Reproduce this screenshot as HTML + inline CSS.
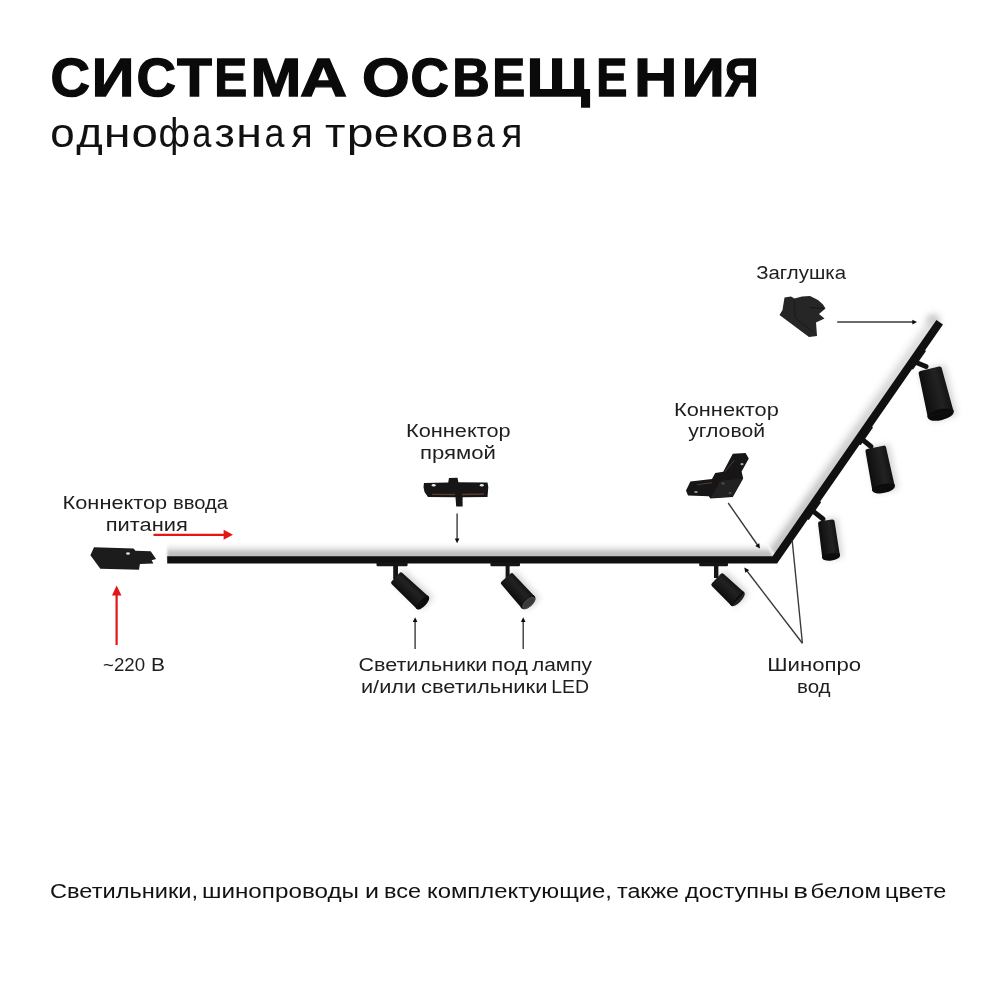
<!DOCTYPE html>
<html><head><meta charset="utf-8">
<style>
html,body{margin:0;padding:0;background:#fff;width:1000px;height:1000px;overflow:hidden}
svg{display:block;will-change:transform}
text{font-family:"Liberation Sans",sans-serif}
</style></head><body>
<svg width="1000" height="1000" viewBox="0 0 1000 1000">
<defs>
  <linearGradient id="shH" x1="0" y1="0" x2="0" y2="1">
    <stop offset="0" stop-color="#ffffff"/>
    <stop offset="0.27" stop-color="#f0f0f0"/>
    <stop offset="0.45" stop-color="#d8d8d8"/>
    <stop offset="0.6" stop-color="#c2c2c2"/>
    <stop offset="1" stop-color="#bdbdbd"/>
  </linearGradient>
  <linearGradient id="shD" gradientUnits="userSpaceOnUse" x1="0" y1="-17.5" x2="0" y2="-4" spreadMethod="pad">
    <stop offset="0" stop-color="#ffffff"/>
    <stop offset="0.33" stop-color="#f0f0f0"/>
    <stop offset="0.55" stop-color="#d8d8d8"/>
    <stop offset="0.74" stop-color="#c4c4c4"/>
    <stop offset="1" stop-color="#c0c0c0"/>
  </linearGradient>
  <filter id="bl1" x="-10%" y="-50%" width="120%" height="200%"><feGaussianBlur stdDeviation="1.2"/></filter>
  <filter id="bl3" x="-100%" y="-100%" width="300%" height="300%"><feGaussianBlur stdDeviation="3"/></filter>
  <linearGradient id="shL" gradientUnits="userSpaceOnUse" x1="0" y1="0" x2="289.3" y2="0">
    <stop offset="0" stop-color="#fff" stop-opacity="0.05"/>
    <stop offset="0.5" stop-color="#fff" stop-opacity="0.3"/>
    <stop offset="1" stop-color="#fff" stop-opacity="0.55"/>
  </linearGradient>
  <linearGradient id="cyl" x1="0" y1="0" x2="0" y2="1">
    <stop offset="0" stop-color="#121212"/>
    <stop offset="0.35" stop-color="#222222"/>
    <stop offset="0.6" stop-color="#1a1a1a"/>
    <stop offset="1" stop-color="#0d0d0d"/>
  </linearGradient>
  <linearGradient id="shE" x1="0" y1="0" x2="1" y2="0">
    <stop offset="0" stop-color="#d8d8d8"/>
    <stop offset="1" stop-color="#ffffff"/>
  </linearGradient>
</defs>
<rect width="1000" height="1000" fill="#fff"/>
<text x="756.2" y="279" font-size="18" font-weight="normal" fill="#1e1e1e" textLength="89.8" lengthAdjust="spacingAndGlyphs">Заглушка</text>
<text x="674" y="415.5" font-size="18" font-weight="normal" fill="#1e1e1e" textLength="104.8" lengthAdjust="spacingAndGlyphs">Коннектор</text>
<text x="688.2" y="437.3" font-size="18" font-weight="normal" fill="#1e1e1e" textLength="76.8" lengthAdjust="spacingAndGlyphs">угловой</text>
<text x="406" y="437.1" font-size="18" font-weight="normal" fill="#1e1e1e" textLength="104.6" lengthAdjust="spacingAndGlyphs">Коннектор</text>
<text x="420" y="458.6" font-size="18" font-weight="normal" fill="#1e1e1e" textLength="76" lengthAdjust="spacingAndGlyphs">прямой</text>
<text x="62.6" y="508.8" font-size="18" font-weight="normal" fill="#1e1e1e" textLength="104.6" lengthAdjust="spacingAndGlyphs">Коннектор</text>
<text x="173" y="508.8" font-size="18" font-weight="normal" fill="#1e1e1e" textLength="55" lengthAdjust="spacingAndGlyphs">ввода</text>
<text x="105.8" y="530.6" font-size="18" font-weight="normal" fill="#1e1e1e" textLength="82" lengthAdjust="spacingAndGlyphs">питания</text>
<text x="103" y="671.2" font-size="18" font-weight="normal" fill="#1e1e1e" textLength="42" lengthAdjust="spacingAndGlyphs">~220</text>
<text x="151" y="671.2" font-size="18" font-weight="normal" fill="#1e1e1e" textLength="14" lengthAdjust="spacingAndGlyphs">В</text>
<text x="358.6" y="671.25" font-size="18" font-weight="normal" fill="#1e1e1e" textLength="128.8" lengthAdjust="spacingAndGlyphs">Светильники</text>
<text x="491.2" y="671.25" font-size="18" font-weight="normal" fill="#1e1e1e" textLength="36.6" lengthAdjust="spacingAndGlyphs">под</text>
<text x="532" y="671.25" font-size="18" font-weight="normal" fill="#1e1e1e" textLength="60" lengthAdjust="spacingAndGlyphs">лампу</text>
<text x="361" y="693.1" font-size="18" font-weight="normal" fill="#1e1e1e" textLength="55" lengthAdjust="spacingAndGlyphs">и/или</text>
<text x="421" y="693.1" font-size="18" font-weight="normal" fill="#1e1e1e" textLength="126.4" lengthAdjust="spacingAndGlyphs">светильники</text>
<text x="551.2" y="693.1" font-size="18" font-weight="normal" fill="#1e1e1e" textLength="37.8" lengthAdjust="spacingAndGlyphs">LED</text>
<text x="767.2" y="671.2" font-size="18" font-weight="normal" fill="#1e1e1e" textLength="94" lengthAdjust="spacingAndGlyphs">Шинопро</text>
<text x="797" y="692.9" font-size="18" font-weight="normal" fill="#1e1e1e" textLength="33.6" lengthAdjust="spacingAndGlyphs">вод</text>
<text x="50" y="897.6" font-size="20" font-weight="normal" fill="#111" textLength="148" lengthAdjust="spacingAndGlyphs">Светильники,</text>
<text x="202" y="897.6" font-size="20" font-weight="normal" fill="#111" textLength="157" lengthAdjust="spacingAndGlyphs">шинопроводы</text>
<text x="365" y="897.6" font-size="20" font-weight="normal" fill="#111" textLength="14" lengthAdjust="spacingAndGlyphs">и</text>
<text x="384" y="897.6" font-size="20" font-weight="normal" fill="#111" textLength="37" lengthAdjust="spacingAndGlyphs">все</text>
<text x="427" y="897.6" font-size="20" font-weight="normal" fill="#111" textLength="185" lengthAdjust="spacingAndGlyphs">комплектующие,</text>
<text x="617" y="897.6" font-size="20" font-weight="normal" fill="#111" textLength="62" lengthAdjust="spacingAndGlyphs">также</text>
<text x="685" y="897.6" font-size="20" font-weight="normal" fill="#111" textLength="104" lengthAdjust="spacingAndGlyphs">доступны</text>
<text x="793.2" y="897.6" font-size="20" font-weight="normal" fill="#111" textLength="14.8" lengthAdjust="spacingAndGlyphs">в</text>
<text x="810.6" y="897.6" font-size="20" font-weight="normal" fill="#111" textLength="70.4" lengthAdjust="spacingAndGlyphs">белом</text>
<text x="885" y="897.6" font-size="20" font-weight="normal" fill="#111" textLength="61.4" lengthAdjust="spacingAndGlyphs">цвете</text>
<text x="50.41" y="96.2" font-size="54.2" font-weight="bold" fill="#0a0a0a" stroke="#0a0a0a" stroke-width="1.3" textLength="39.43" lengthAdjust="spacingAndGlyphs">С</text>
<text x="91.71" y="96.2" font-size="54.2" font-weight="bold" fill="#0a0a0a" stroke="#0a0a0a" stroke-width="1.3" textLength="42.6" lengthAdjust="spacingAndGlyphs">И</text>
<text x="136.41" y="96.2" font-size="54.2" font-weight="bold" fill="#0a0a0a" stroke="#0a0a0a" stroke-width="1.3" textLength="39.43" lengthAdjust="spacingAndGlyphs">С</text>
<text x="177.01" y="96.2" font-size="54.2" font-weight="bold" fill="#0a0a0a" stroke="#0a0a0a" stroke-width="1.3" textLength="34.96" lengthAdjust="spacingAndGlyphs">Т</text>
<text x="214.35" y="96.2" font-size="54.2" font-weight="bold" fill="#0a0a0a" stroke="#0a0a0a" stroke-width="1.3" textLength="32.93" lengthAdjust="spacingAndGlyphs">Е</text>
<text x="250.56" y="96.2" font-size="54.2" font-weight="bold" fill="#0a0a0a" stroke="#0a0a0a" stroke-width="1.3" textLength="50.87" lengthAdjust="spacingAndGlyphs">М</text>
<text x="300.03" y="96.2" font-size="54.2" font-weight="bold" fill="#0a0a0a" stroke="#0a0a0a" stroke-width="1.3" textLength="47.04" lengthAdjust="spacingAndGlyphs">А</text>
<text x="362.13" y="96.2" font-size="54.2" font-weight="bold" fill="#0a0a0a" stroke="#0a0a0a" stroke-width="1.3" textLength="47.8" lengthAdjust="spacingAndGlyphs">О</text>
<text x="410.47" y="96.2" font-size="54.2" font-weight="bold" fill="#0a0a0a" stroke="#0a0a0a" stroke-width="1.3" textLength="38.33" lengthAdjust="spacingAndGlyphs">С</text>
<text x="452.17" y="96.2" font-size="54.2" font-weight="bold" fill="#0a0a0a" stroke="#0a0a0a" stroke-width="1.3" textLength="37.54" lengthAdjust="spacingAndGlyphs">В</text>
<text x="492.35" y="96.2" font-size="54.2" font-weight="bold" fill="#0a0a0a" stroke="#0a0a0a" stroke-width="1.3" textLength="32.93" lengthAdjust="spacingAndGlyphs">Е</text>
<text x="526.49" y="96.2" font-size="54.2" font-weight="bold" fill="#0a0a0a" stroke="#0a0a0a" stroke-width="1.3" textLength="63.31" lengthAdjust="spacingAndGlyphs">Щ</text>
<text x="596.28" y="96.2" font-size="54.2" font-weight="bold" fill="#0a0a0a" stroke="#0a0a0a" stroke-width="1.3" textLength="31.15" lengthAdjust="spacingAndGlyphs">Е</text>
<text x="634.17" y="96.2" font-size="54.2" font-weight="bold" fill="#0a0a0a" stroke="#0a0a0a" stroke-width="1.3" textLength="42.93" lengthAdjust="spacingAndGlyphs">Н</text>
<text x="681.69" y="96.2" font-size="54.2" font-weight="bold" fill="#0a0a0a" stroke="#0a0a0a" stroke-width="1.3" textLength="42.91" lengthAdjust="spacingAndGlyphs">И</text>
<text x="724.84" y="96.2" font-size="54.2" font-weight="bold" fill="#0a0a0a" stroke="#0a0a0a" stroke-width="1.3" textLength="33.91" lengthAdjust="spacingAndGlyphs">Я</text>
<text x="50.16" y="146.8" font-size="39.8" font-weight="normal" fill="#111" textLength="24.38" lengthAdjust="spacingAndGlyphs">о</text>
<text x="76.26" y="146.8" font-size="39.8" font-weight="normal" fill="#111" textLength="26.52" lengthAdjust="spacingAndGlyphs">д</text>
<text x="103.83" y="146.8" font-size="39.8" font-weight="normal" fill="#111" textLength="26.84" lengthAdjust="spacingAndGlyphs">н</text>
<text x="131.61" y="146.8" font-size="39.8" font-weight="normal" fill="#111" textLength="26.38" lengthAdjust="spacingAndGlyphs">о</text>
<text x="158.49" y="146.8" font-size="39.8" font-weight="normal" fill="#111" textLength="31.54" lengthAdjust="spacingAndGlyphs">ф</text>
<text x="192.14" y="146.8" font-size="39.8" font-weight="normal" fill="#111" textLength="19.06" lengthAdjust="spacingAndGlyphs">а</text>
<text x="214.54" y="146.8" font-size="39.8" font-weight="normal" fill="#111" textLength="20.33" lengthAdjust="spacingAndGlyphs">з</text>
<text x="236.38" y="146.8" font-size="39.8" font-weight="normal" fill="#111" textLength="25.64" lengthAdjust="spacingAndGlyphs">н</text>
<text x="264.48" y="146.8" font-size="39.8" font-weight="normal" fill="#111" textLength="19.92" lengthAdjust="spacingAndGlyphs">а</text>
<text x="291.27" y="146.8" font-size="39.8" font-weight="normal" fill="#111" textLength="21.48" lengthAdjust="spacingAndGlyphs">я</text>
<text x="325.04" y="146.8" font-size="39.8" font-weight="normal" fill="#111" textLength="20.42" lengthAdjust="spacingAndGlyphs">т</text>
<text x="346.8" y="146.8" font-size="39.8" font-weight="normal" fill="#111" textLength="26.71" lengthAdjust="spacingAndGlyphs">р</text>
<text x="373.75" y="146.8" font-size="39.8" font-weight="normal" fill="#111" textLength="25.48" lengthAdjust="spacingAndGlyphs">е</text>
<text x="400.69" y="146.8" font-size="39.8" font-weight="normal" fill="#111" textLength="21.47" lengthAdjust="spacingAndGlyphs">к</text>
<text x="421.7" y="146.8" font-size="39.8" font-weight="normal" fill="#111" textLength="26.5" lengthAdjust="spacingAndGlyphs">о</text>
<text x="450.87" y="146.8" font-size="39.8" font-weight="normal" fill="#111" textLength="22.47" lengthAdjust="spacingAndGlyphs">в</text>
<text x="476.06" y="146.8" font-size="39.8" font-weight="normal" fill="#111" textLength="18.84" lengthAdjust="spacingAndGlyphs">а</text>
<text x="501.58" y="146.8" font-size="39.8" font-weight="normal" fill="#111" textLength="20.9" lengthAdjust="spacingAndGlyphs">я</text>
<g transform="translate(411.75 588.6) rotate(43.17)" filter="url(#bl3)"><rect x="-18.85" y="-8.5" width="40.91" height="17" rx="3" fill="#d4d4d4"/></g>
<g transform="translate(519.75 588.65) rotate(48.13)" filter="url(#bl3)"><rect x="-16.85" y="-8.75" width="37.91" height="17.5" rx="3" fill="#d4d4d4"/></g>
<g transform="translate(729.65 587.4) rotate(43.51)" filter="url(#bl3)"><rect x="-14.96" y="-9.25" width="33.32" height="18.5" rx="3" fill="#d4d4d4"/></g>
<g transform="translate(831.08 537.15) rotate(82.01)" filter="url(#bl3)"><rect x="-18.53" y="-8.9" width="40.56" height="17.8" rx="3" fill="#d4d4d4"/></g>
<g transform="translate(881.98 466.38) rotate(78.66)" filter="url(#bl3)"><rect x="-20.98" y="-11.45" width="46.47" height="22.9" rx="3" fill="#d4d4d4"/></g>
<g transform="translate(937.73 390.23) rotate(76.45)" filter="url(#bl3)"><rect x="-23.58" y="-13.25" width="52.66" height="26.5" rx="3" fill="#d4d4d4"/></g>
<polygon points="167.2,542.7 765.74,542.7 774.3,559.2 167.2,559.2" fill="url(#shH)" filter="url(#bl1)"/>
<g transform="translate(774.8 559.9) rotate(-55.25)">
<polygon points="3.9,-1 8.97,-17.5 289.3,-17.5 289.3,-1" fill="url(#shD)" filter="url(#bl1)"/>
<polygon points="3.9,-1 8.97,-17.5 289.3,-17.5 289.3,-1" fill="url(#shL)"/>
<circle cx="287.3" cy="-6" r="7" fill="#cfcfcf" filter="url(#bl3)"/>
</g>
<polygon points="167.2,556.2 772.5,556.2 936.41,319.92 942.99,324.48 777.1,563.6 167.2,563.6" fill="#101010"/>
<g transform="translate(774.8 559.9) rotate(-55.25)">
<rect x="52" y="3.2" width="22" height="2.0" rx="0.8" fill="#141414"/>
<rect x="143" y="3.2" width="22" height="2.0" rx="0.8" fill="#141414"/>
<rect x="235" y="3.2" width="23" height="2.0" rx="0.8" fill="#141414"/>
</g>
<rect x="376.5" y="562.4" width="31.1" height="3.8" rx="1.2" fill="#151515"/>
<rect x="490.4" y="562.4" width="29.6" height="3.8" rx="1.2" fill="#151515"/>
<rect x="699.2" y="562.4" width="28.8" height="3.8" rx="1.2" fill="#151515"/>
<rect x="393.2" y="562.9" width="4.8" height="16.1" fill="#151515"/>
<rect x="505.6" y="562.9" width="4" height="15.1" fill="#151515"/>
<rect x="714" y="562.9" width="4.4" height="15.1" fill="#151515"/>
<g transform="translate(409.25 590.1) rotate(43.17)"><path d="M-18.85 -5.55 Q-18.85 -7.75 -16.65 -7.75 L18.85 -8.5 L18.85 8.5 L-16.65 7.75 Q-18.85 7.75 -18.85 5.55 Z" fill="url(#cyl)"/><ellipse cx="18.85" cy="0" rx="3.2" ry="8.5" fill="#0b0b0b"/><rect x="16.65" y="-8.5" width="2.2" height="17" fill="#0e0e0e"/></g>
<g transform="translate(517.25 590.15) rotate(48.13)"><path d="M-16.85 -5.8 Q-16.85 -8 -14.65 -8 L16.85 -8.75 L16.85 8.75 L-14.65 8 Q-16.85 8 -16.85 5.8 Z" fill="url(#cyl)"/><ellipse cx="16.85" cy="0" rx="4.2" ry="8.75" fill="#151515"/><rect x="14.65" y="-8.75" width="2.2" height="17.5" fill="#0e0e0e"/><ellipse cx="17.15" cy="0" rx="3.36" ry="7.44" fill="#3a3a3a" stroke="#555" stroke-width="0.8"/></g>
<g transform="translate(727.15 588.9) rotate(43.51)"><path d="M-14.96 -6.3 Q-14.96 -8.5 -12.76 -8.5 L14.96 -9.25 L14.96 9.25 L-12.76 8.5 Q-14.96 8.5 -14.96 6.3 Z" fill="url(#cyl)"/><ellipse cx="14.96" cy="0" rx="3.4" ry="9.25" fill="#222222"/><rect x="12.76" y="-9.25" width="2.2" height="18.5" fill="#0e0e0e"/></g>
<line x1="814" y1="511.9" x2="823" y2="519" stroke="#111" stroke-width="5" stroke-linecap="round"/>
<line x1="862.6" y1="439.8" x2="871" y2="446.5" stroke="#111" stroke-width="5" stroke-linecap="round"/>
<line x1="916.2" y1="362.5" x2="926" y2="366.5" stroke="#111" stroke-width="5" stroke-linecap="round"/>
<g transform="translate(828.58 538.65) rotate(82.01)"><path d="M-18.53 -6.1 Q-18.53 -8.3 -16.33 -8.3 L18.53 -8.9 L18.53 8.9 L-16.33 8.3 Q-18.53 8.3 -18.53 6.1 Z" fill="url(#cyl)"/><ellipse cx="18.53" cy="0" rx="3.5" ry="8.9" fill="#0b0b0b"/><rect x="16.33" y="-8.9" width="2.2" height="17.8" fill="#0e0e0e"/></g>
<g transform="translate(879.48 467.88) rotate(78.66)"><path d="M-20.98 -8.3 Q-20.98 -10.5 -18.78 -10.5 L20.98 -11.45 L20.98 11.45 L-18.78 10.5 Q-20.98 10.5 -20.98 8.3 Z" fill="url(#cyl)"/><ellipse cx="20.98" cy="0" rx="4.5" ry="11.45" fill="#0b0b0b"/><rect x="18.78" y="-11.45" width="2.2" height="22.9" fill="#0e0e0e"/></g>
<g transform="translate(935.23 391.73) rotate(76.45)"><path d="M-23.58 -9.65 Q-23.58 -11.85 -21.38 -11.85 L23.58 -13.25 L23.58 13.25 L-21.38 11.85 Q-23.58 11.85 -23.58 9.65 Z" fill="url(#cyl)"/><ellipse cx="23.58" cy="0" rx="5.5" ry="13.25" fill="#0b0b0b"/><rect x="21.38" y="-13.25" width="2.2" height="26.5" fill="#0e0e0e"/></g>

<!-- Power connector -->
<path d="M94 547.2 L133.6 548.6 L135.4 550.8 L150.7 551.3 L156.1 558.9 L151.6 560.3 L153.4 563.4 L139.9 563.9 L139 569.7 L100.3 568.8 L90.4 555.3 Z" fill="#1c1c1c"/>
<ellipse cx="128" cy="553.5" rx="2" ry="1.3" fill="#ddd"/>

<!-- Straight connector -->
<path d="M424 483 L448.2 482.5 L449 478 L457.5 477.7 L458.4 482.3 L487.5 482.5 L488.3 487 L487.5 497 L462.6 497.2 L462.6 506.6 L456.2 506.6 L455.5 497.2 L428 497 L424.5 492 L423.5 487 Z" fill="#161616"/>
<path d="M432 494.3 L455 494.5 M462 494.5 L484 494" stroke="#5a3a28" stroke-width="1.3" fill="none"/>
<ellipse cx="433.7" cy="485.3" rx="2" ry="1.2" fill="#e8e8e8"/>
<ellipse cx="481.8" cy="485.3" rx="2" ry="1.2" fill="#e8e8e8"/>

<!-- Corner connector -->
<path d="M688 495.4 L686 490.6 L690.4 481.4 L712 479 L715.2 473 L723.2 471.8 L732.8 453.8 L745.6 453 L748.8 458.6 L741.6 471.4 L743.2 478.6 L732.8 497 L710.4 498.6 L708.8 496.2 Z" fill="#161616"/>
<path d="M720 481 L742 478.6 L732.5 496.5 L711 498 Z" fill="#222"/>
<path d="M697 484.8 L712 482.6 M725 471.5 L734.5 460" stroke="#4e3526" stroke-width="1.1" fill="none"/>
<ellipse cx="696" cy="492" rx="1.8" ry="1.1" fill="#999"/>
<ellipse cx="723" cy="483.5" rx="1.6" ry="1" fill="#555"/>
<ellipse cx="730" cy="493" rx="1.4" ry="1" fill="#555"/>
<ellipse cx="742" cy="464.2" rx="1.6" ry="1.1" fill="#aaa"/>

<!-- End cap -->
<path d="M784.5 297.5 L791 296.5 L794.5 298.5 L802 296.5 L810 296 L818 300 L823 304.5 L825.5 308.5 L819 314 L824.5 318.5 L816 322.5 L817 336 L809 337 L779.5 315 L782.5 310 Z" fill="#262626"/>
<path d="M794.5 299 L795 318 L812 331" stroke="#1a1a1a" stroke-width="1" fill="none"/>
<path d="M810 307.5 L824 308.5" stroke="#151515" stroke-width="1.2" fill="none"/>

<!-- Red arrows -->
<line x1="153.5" y1="534.8" x2="224" y2="534.8" stroke="#e31515" stroke-width="2.2"/>
<path d="M223.6 529.8 L233 534.8 L223.6 539.8 Z" fill="#e31515"/>
<line x1="116.6" y1="645" x2="116.6" y2="594" stroke="#e31515" stroke-width="2.2"/>
<path d="M112 595.5 L116.6 585.5 L121.5 595.5 Z" fill="#e31515"/>

<!-- Black arrows -->
<g stroke="#3a3a3a" stroke-width="1.4" fill="none">
  <line x1="457.1" y1="513.4" x2="457.1" y2="539"/>
  <line x1="415.1" y1="649" x2="415.1" y2="621"/>
  <line x1="523.2" y1="649" x2="523.2" y2="621"/>
  <line x1="728.2" y1="503" x2="757.5" y2="545"/>
  <line x1="802.4" y1="643.2" x2="747" y2="571"/>
  <line x1="802.4" y1="643.2" x2="792.2" y2="540.5"/>
  <line x1="837.2" y1="322" x2="913" y2="322"/>
</g>
<g fill="#0a0a0a">
  <path d="M454.8 538.5 L457.1 543.3 L459.4 538.5 Z"/>
  <path d="M412.8 622 L415.1 617.3 L417.4 622 Z"/>
  <path d="M520.9 622 L523.2 617.3 L525.5 622 Z"/>
  <path d="M912.3 319.8 L917 322 L912.3 324.4 Z"/>
</g>
<g transform="translate(760 548.6) rotate(55.1)"><path d="M-4.8 -2.4 L0 0 L-4.8 2.4 Z" fill="#0a0a0a"/></g>
<g transform="translate(744.3 567.6) rotate(-127.5)"><path d="M-4.8 -2.4 L0 0 L-4.8 2.4 Z" fill="#0a0a0a"/></g>

</svg>
</body></html>
